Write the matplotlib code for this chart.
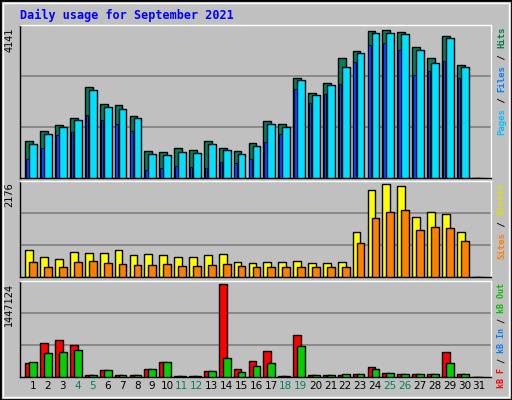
import matplotlib
matplotlib.use("Agg")
import matplotlib.pyplot as plt
from matplotlib.patches import Rectangle
import numpy as np

days = list(range(1, 32))
hits = [1021,1302,1471,1668,2539,2061,2033,1724,740,712,824,768,1021,824,740,965,1583,1499,2792,2370,2651,3354,3551,4113,4141,4085,3663,3354,3972,3157,0]
pages = [937,1218,1415,1611,2455,1977,1920,1668,656,628,712,684,937,768,656,881,1499,1415,2736,2314,2595,3101,3495,4057,4057,4029,3579,3214,3917,3101,0]
files = [543,824,1190,1274,1752,1611,1499,1302,234,290,347,319,290,459,431,543,993,1218,2483,2089,2342,2623,3242,3720,3776,3579,2876,2989,3270,2792,0]
visits = [621,479,409,574,550,550,621,503,527,503,479,479,503,527,362,338,362,362,385,338,338,362,1045,2035,2176,2130,1399,1517,1470,1045,0]
sites = [362,244,244,362,385,338,314,291,291,314,267,267,291,314,267,244,244,244,244,244,244,244,786,1376,1517,1564,1093,1163,1140,833,0]
kb_f = [211,528,576,496,32,116,32,32,132,227,16,16,100,1447.124,132,243,401,16,655,32,32,32,48,148,69,53,53,53,386,53,0]
kb_out = [227,370,386,417,32,116,32,32,132,227,16,16,100,290,85,164,211,16,481,32,32,53,53,132,69,53,53,53,211,53,0]
weekend = {4,5,11,12,18,19,25,26}

W, H = 512, 400
fig = plt.figure(figsize=(W/100, H/100), dpi=100)
fig.patch.set_facecolor("#C0C0C0")
fig.add_artist(Rectangle((0, 0), 1, 1, transform=fig.transFigure, fill=False, ec="black", lw=2))
fig.add_artist(Rectangle((3/W, 3/H), 1-6/W, 1-6/H, transform=fig.transFigure, fill=False, ec="white", lw=1))

def ax_px(x0, y0, x1, y1):
    return fig.add_axes([x0/W, 1-y1/H, (x1-x0)/W, (y1-y0)/H])

x = np.array(days)
XL = (0.126, 31.79)
mono = "DejaVu Sans Mono"

def setup(ax, top, label, parts, fs=6.5):
    ax.set_facecolor("#C0C0C0")
    ax.set_xlim(*XL)
    ax.set_ylim(0, top/0.97)
    for f in (1/3, 2/3):
        ax.axhline(top/0.97*f, color="#808080", lw=1.2, zorder=0)
    ax.set_xticks([]); ax.set_yticks([])
    for s in ax.spines.values():
        s.set_color("black"); s.set_linewidth(1)
    ax.spines["top"].set_color("white"); ax.spines["right"].set_color("white")
    ax.text(-0.012, 0.985, label, transform=ax.transAxes, rotation=90, ha="right", va="top",
            fontsize=7, family="DejaVu Sans", color="black")
    pos = 0
    cw = 0.602*fs*100/72
    hpx = ax.get_position().height*H
    for txt, col in parts:
        ax.text(1.013, 1-(pos*cw+2)/hpx, txt, transform=ax.transAxes, rotation=90, ha="left", va="top",
                fontsize=fs, family=mono, color=col, fontweight="bold")
        pos += len(txt)

ax1 = ax_px(20, 25, 491, 178)
setup(ax1, 4141, "4141", [("Hits", "#008040"), (" / ", "#000000"), ("Files", "#0080FF"), (" / ", "#000000"), ("Pages", "#00C0FF")])
ax1.bar(x-0.25, hits, 0.52, color="#008060", ec="black", lw=1, zorder=2)
ax1.bar(x+0.02, pages, 0.52, color="#00E0FF", ec="black", lw=1, zorder=3)
ax1.bar(x-0.37, files, 0.17, color="#0040FF", ec="black", lw=0.6, zorder=4)

ax2 = ax_px(20, 181, 491, 277)
setup(ax2, 2176, "2176", [("Visits", "#E0E000"), (" / ", "#000000"), ("Sites", "#FF8000")])
ax2.bar(x-0.25, visits, 0.52, color="#FFFF00", ec="black", lw=1, zorder=2)
ax2.bar(x+0.02, sites, 0.52, color="#FF8000", ec="black", lw=1, zorder=3)

ax3 = ax_px(20, 281, 491, 377)
setup(ax3, 1447.124, "1447124", [("kB Out", "#00C000"), (" / ", "#000000"), ("kB In", "#0080FF"), (" / ", "#000000"), ("kB F", "#FF0000")], fs=6.0)
ax3.bar(x-0.25, kb_f, 0.52, color="#FF0000", ec="black", lw=1, zorder=2)
ax3.bar(x+0.02, kb_out, 0.52, color="#00D000", ec="black", lw=1, zorder=3)
for d in days:
    ax3.text(d, -0.09, str(d), transform=ax3.get_xaxis_transform(), ha="center", va="center",
             fontsize=7.5, family="DejaVu Sans", color="#008060" if d in weekend else "black")

fig.text(20/W, 1-15/H, "Daily usage for September 2021", ha="left", va="center",
         fontsize=8.5, family=mono, fontweight="bold", color="#0000FF")

fig.savefig("out.png", dpi=100, facecolor=fig.get_facecolor())
